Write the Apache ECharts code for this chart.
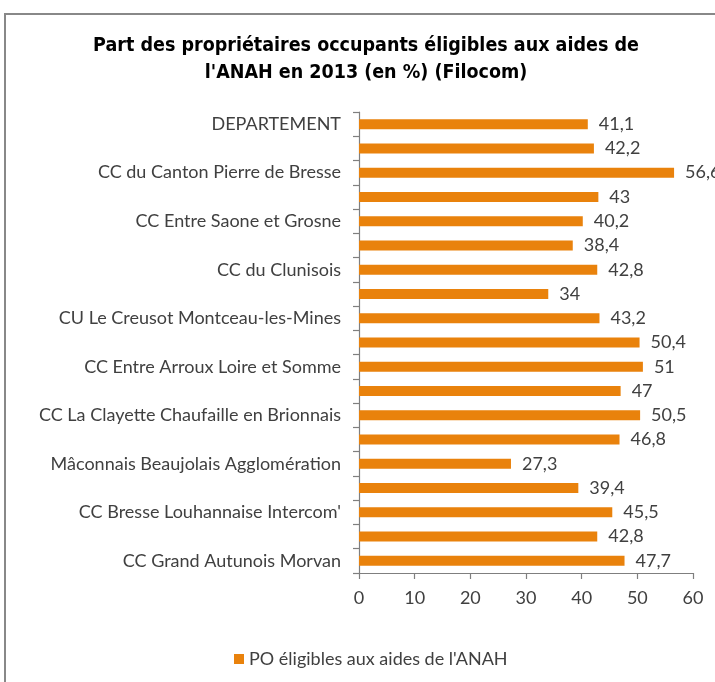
<!DOCTYPE html>
<html>
<head>
<meta charset="utf-8">
<style>
  html, body { margin: 0; padding: 0; background: #fff; }
  #chart { width: 715px; height: 682px; }
</style>
<script src="https://cdn.jsdelivr.net/npm/echarts@6/dist/echarts.min.js"></script>
</head>
<body>
<div id="chart"></div>
<script>
// categories from top to bottom (only every other one is labelled in the source)
const categories = [
  'DEPARTEMENT', '',
  'CC du Canton Pierre de Bresse', '',
  'CC Entre Saone et Grosne', '',
  'CC du Clunisois', '',
  'CU Le Creusot Montceau-les-Mines', '',
  'CC Entre Arroux Loire et Somme', '',
  'CC La Clayette Chaufaille en Brionnais', '',
  'Mâconnais Beaujolais Agglomération', '',
  'CC Bresse Louhannaise Intercom\'', '',
  'CC Grand Autunois Morvan'
]
const values = [41.1, 42.2, 56.6, 43, 40.2, 38.4, 42.8, 34, 43.2, 50.4, 51, 47, 50.5, 46.8, 27.3, 39.4, 45.5, 42.8, 47.7]
const xTicks = [0, 10, 20, 30, 40, 50, 60]
const seriesName = 'PO éligibles aux aides de l\'ANAH'

const font = 'Lato, sans-serif'
const titleFont = "'DejaVu Sans Condensed', sans-serif"
const textColor = '#404040'
const axisColor = '#7f7f7f'

const chart = echarts.init(document.getElementById('chart'))
chart.setOption({
  animation: false,
  title: {
    text: 'Part des propriétaires occupants éligibles aux aides de\nl\'ANAH en 2013 (en %) (Filocom)',
    left: 361,
    textAlign: 'center',
    top: 27,
    textStyle: {
      fontFamily: titleFont,
      fontSize: 19.5,
      fontWeight: 'bold',
      color: '#000',
      lineHeight: 27
    }
  },
  graphic: [{
    type: 'rect',
    shape: { x: 5, y: 14, width: 900, height: 900 },
    style: { fill: 'none', stroke: '#888', lineWidth: 2 },
    silent: true
  }],
  legend: {
    bottom: 9,
    left: 229,
    icon: 'rect',
    itemWidth: 10,
    itemHeight: 10,
    itemGap: 5,
    textStyle: { fontFamily: font, fontSize: 18, color: textColor },
    data: [seriesName]
  },
  grid: {
    left: 359,
    right: 22,
    top: 112,
    bottom: 109
  },
  xAxis: {
    type: 'value',
    min: xTicks[0],
    max: xTicks[xTicks.length - 1],
    interval: 10,
    splitLine: { show: false },
    axisLine: { show: true, lineStyle: { color: axisColor, width: 1.2 } },
    axisTick: { show: true, length: 6, lineStyle: { color: axisColor, width: 1.2 } },
    axisLabel: { fontFamily: font, fontSize: 18, color: textColor, margin: 16 }
  },
  yAxis: {
    type: 'category',
    inverse: true,
    data: categories,
    axisLine: { show: true, lineStyle: { color: axisColor, width: 1.2 } },
    axisTick: { show: true, length: 6, interval: 0, lineStyle: { color: axisColor, width: 1.2 } },
    axisLabel: {
      interval: 1,
      fontFamily: font,
      fontSize: 18,
      color: textColor,
      margin: 18
    }
  },
  series: [{
    name: seriesName,
    type: 'bar',
    data: values,
    barWidth: 10,
    itemStyle: { color: '#E9820C' },
    label: {
      show: true,
      position: 'right',
      distance: 11,
      fontFamily: font,
      fontSize: 18,
      color: textColor,
      formatter: p => String(p.value).replace('.', ',')
    }
  }]
})
</script>
</body>
</html>
